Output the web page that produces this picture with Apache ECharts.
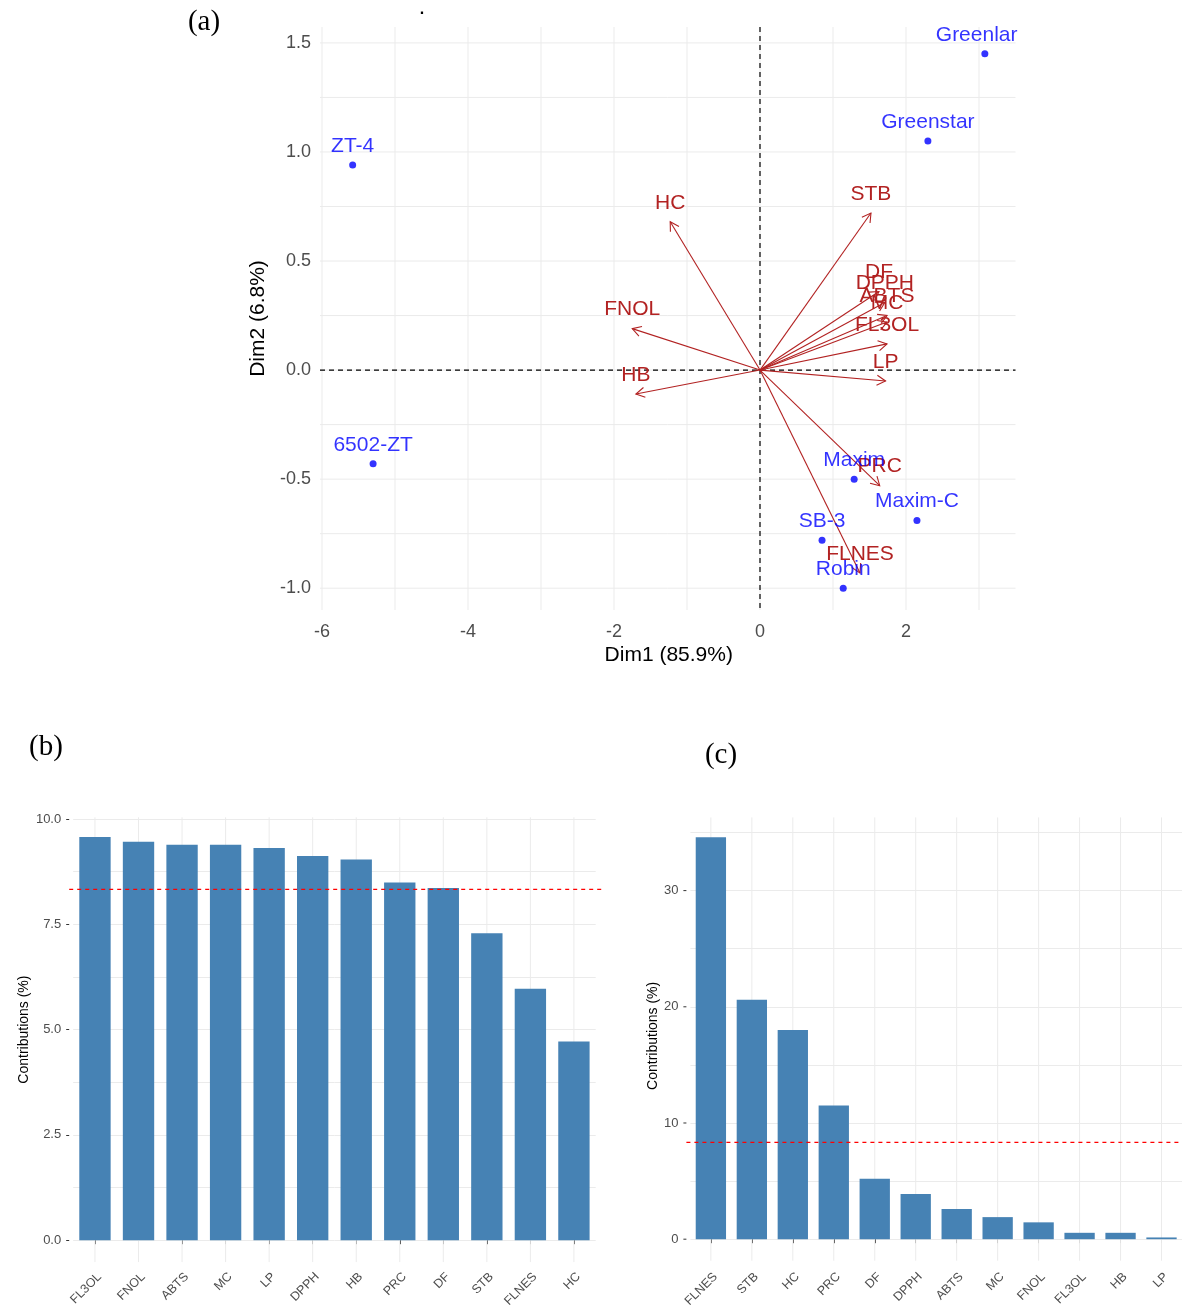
<!DOCTYPE html>
<html><head><meta charset="utf-8">
<script src="https://cdn.jsdelivr.net/npm/echarts@6/dist/echarts.min.js"></script>
<style>html,body{margin:0;padding:0;background:#fff}#c{width:1182px;height:1310px}</style>
</head><body><div id="c"></div>
<script>
// ---- (a) PCA biplot ----
const indNames = ['Greenlar','Greenstar','ZT-4','6502-ZT','Maxim','Maxim-C','SB-3','Robin'];
const indDim1 = [3.08, 2.30, -5.58, -5.30, 1.29, 2.15, 0.85, 1.14];
const indDim2 = [1.45, 1.05, 0.94, -0.43, -0.50, -0.69, -0.78, -1.00];
const varNames = ['FL3OL','FNOL','ABTS','MC','LP','DPPH','HB','PRC','DF','STB','FLNES','HC'];
const varDim1 = [1.74, -1.75, 1.74, 1.74, 1.72, 1.71, -1.70, 1.64, 1.63, 1.52, 1.37, -1.23];
const varDim2 = [0.12, 0.19, 0.25, 0.22, -0.05, 0.31, -0.11, -0.53, 0.36, 0.72, -0.93, 0.68];
const dim1Ticks = [-6, -4, -2, 0, 2];
const dim2Ticks = [-1.0, -0.5, 0.0, 0.5, 1.0, 1.5];
const dim1Grid = [-6, -5, -4, -3, -2, -1, 0, 1, 2, 3];
const dim2Grid = [-1, -0.75, -0.5, -0.25, 0, 0.25, 0.5, 0.75, 1, 1.25, 1.5];
// ---- (b) contributions to Dim1 ----
const contrib1Cats = ['FL3OL','FNOL','ABTS','MC','LP','DPPH','HB','PRC','DF','STB','FLNES','HC'];
const contrib1Vals = [9.57, 9.46, 9.39, 9.39, 9.31, 9.12, 9.04, 8.49, 8.36, 7.29, 5.97, 4.72];
const contrib1Ticks = [0, 2.5, 5, 7.5, 10];
// ---- (c) contributions to Dim2 ----
const contrib2Cats = ['FLNES','STB','HC','PRC','DF','DPPH','ABTS','MC','FNOL','FL3OL','HB','LP'];
const contrib2Vals = [34.6, 20.6, 18.0, 11.5, 5.2, 3.9, 2.6, 1.9, 1.45, 0.55, 0.55, 0.15];
const contrib2Ticks = [0, 10, 20, 30];
const expectedContrib = 8.33;

const FONT = '"Liberation Sans", Arial, sans-serif';
const VAR_COLOR = '#B22222';
const IND_COLOR = '#0000FF';
const GRID_COLOR = '#EBEBEB';
const AXIS_TXT = '#4D4D4D';
const BIPLOT = {left: 322, top: 27, width: 693.5, height: 583};

const chart = echarts.init(document.getElementById('c'), null, {renderer: 'canvas'});

function biplotGrid(params, api) {
  const cs = params.coordSys;
  const ch = [];
  dim1Grid.forEach(v => {
    const x = api.coord([v, 0])[0];
    ch.push({type: 'line', shape: {x1: x, y1: cs.y, x2: x, y2: cs.y + cs.height}, style: {stroke: GRID_COLOR, lineWidth: 1}});
  });
  dim2Grid.forEach(v => {
    const y = api.coord([0, v])[1];
    ch.push({type: 'line', shape: {x1: cs.x - 2, y1: y, x2: cs.x + cs.width, y2: y}, style: {stroke: GRID_COLOR, lineWidth: 1}});
  });
  const o = api.coord([0, 0]);
  ch.push({type: 'line', shape: {x1: o[0], y1: cs.y, x2: o[0], y2: cs.y + cs.height + 2}, style: {stroke: '#000', lineWidth: 1.2, lineDash: [5, 4]}});
  ch.push({type: 'line', shape: {x1: cs.x - 2, y1: o[1], x2: cs.x + cs.width, y2: o[1]}, style: {stroke: '#000', lineWidth: 1.2, lineDash: [5, 4]}});
  return {type: 'group', children: ch, silent: true};
}

function arrowItem(params, api) {
  const p0 = api.coord([0, 0]);
  const p1 = api.coord([api.value(0), api.value(1)]);
  const a = Math.atan2(p1[1] - p0[1], p1[0] - p0[0]);
  const L = 10, w = Math.PI / 6;
  const h1 = [p1[0] - L * Math.cos(a - w), p1[1] - L * Math.sin(a - w)];
  const h2 = [p1[0] - L * Math.cos(a + w), p1[1] - L * Math.sin(a + w)];
  return {type: 'group', children: [
    {type: 'line', shape: {x1: p0[0], y1: p0[1], x2: p1[0], y2: p1[1]}, style: {stroke: VAR_COLOR, lineWidth: 1.1}},
    {type: 'polyline', shape: {points: [h1, p1, h2]}, style: {stroke: VAR_COLOR, lineWidth: 1.1, fill: null}},
    {type: 'text', x: p1[0], y: p1[1] - 19, style: {text: varNames[params.dataIndex], fill: VAR_COLOR, font: '21px ' + FONT, textAlign: 'center', textVerticalAlign: 'middle'}}
  ]};
}

function catGrid(lo, hi) {
  return function (params, api) {
    const x = api.coord([api.value(0), 0])[0];
    const y1 = api.coord([0, hi])[1], y2 = api.coord([0, lo])[1];
    return {type: 'line', shape: {x1: x, y1: y1, x2: x, y2: y2}, style: {stroke: GRID_COLOR, lineWidth: 1}, silent: true};
  };
}

function yTicks(params, api) {
  const y = api.coord([0, api.value(1)])[1];
  const x = params.coordSys.x - 4;
  return {type: 'line', shape: {x1: x - 3, y1: y, x2: x, y2: y}, style: {stroke: '#333', lineWidth: 1}, silent: true};
}

function refLineItem(params, api) {
  const cs = params.coordSys;
  const y = api.coord([0, api.value(1)])[1];
  return {type: 'line', shape: {x1: cs.x - 4, y1: y, x2: cs.x + cs.width + 6, y2: y},
          style: {stroke: '#FF0000', lineWidth: 1.1, lineDash: [4, 4]}, silent: true};
}

const catLabel = () => ({rotate: 45, interval: 0, fontSize: 12.5, color: AXIS_TXT, margin: 10, verticalAlign: 'top'});

const option = {
  animation: false,
  backgroundColor: '#fff',
  textStyle: {fontFamily: FONT},
  grid: [
    BIPLOT,
    {left: 73.2, top: 819, width: 522.5, height: 424},
    {left: 690.4, top: 832.5, width: 495.3, height: 409.5}
  ],
  xAxis: [
    {type: 'value', gridIndex: 0, min: -6, max: 3.5, interval: 1,
     axisLine: {show: false}, axisTick: {show: false}, splitLine: {show: false},
     axisLabel: {formatter: v => dim1Ticks.includes(v) ? String(v) : '', fontSize: 18, color: AXIS_TXT, margin: 13},
     name: 'Dim1 (85.9%)', nameLocation: 'middle', nameGap: 35, nameTextStyle: {fontSize: 21, color: '#000'}},
    {type: 'category', gridIndex: 1, data: contrib1Cats, offset: 20,
     axisLine: {show: false}, axisTick: {show: true, alignWithLabel: true, length: 4, lineStyle: {color: '#333'}},
     axisLabel: catLabel(), splitLine: {show: false}},
    {type: 'category', gridIndex: 2, data: contrib2Cats, offset: 21,
     axisLine: {show: false}, axisTick: {show: true, alignWithLabel: true, length: 4, lineStyle: {color: '#333'}},
     axisLabel: catLabel(), splitLine: {show: false}}
  ],
  yAxis: [
    {type: 'value', gridIndex: 0, min: -1.1, max: 1.573, interval: 0.1,
     axisLine: {show: false}, axisTick: {show: false}, splitLine: {show: false},
     axisLabel: {formatter: v => { const t = dim2Ticks.find(t => Math.abs(t - v) < 1e-6); return t === undefined ? '' : t.toFixed(1); }, fontSize: 18, color: AXIS_TXT, margin: 11},
     name: 'Dim2 (6.8%)', nameLocation: 'middle', nameGap: 46, nameTextStyle: {fontSize: 21, color: '#000'}},
    {type: 'value', gridIndex: 1, min: 0, max: 10, interval: 2.5, offset: 4,
     axisLine: {show: false}, axisTick: {show: true, length: 3, lineStyle: {color: '#333'}},
     axisLabel: {formatter: v => contrib1Ticks.includes(v) ? v.toFixed(1) : '', fontSize: 13, color: AXIS_TXT, margin: 8},
     splitLine: {show: true, lineStyle: {color: GRID_COLOR, width: 1}},
     minorTick: {show: false, splitNumber: 2}, minorSplitLine: {show: true, lineStyle: {color: GRID_COLOR, width: 1}},
     name: 'Contributions (%)', nameLocation: 'middle', nameGap: 38, nameTextStyle: {fontSize: 14, color: '#000'}},
    {type: 'value', gridIndex: 2, min: 0, max: 35, interval: 5, offset: 4,
     axisLine: {show: false}, axisTick: {show: false},
     axisLabel: {formatter: v => contrib2Ticks.includes(v) ? String(v) : '', fontSize: 13, color: AXIS_TXT, margin: 8},
     splitLine: {show: true, lineStyle: {color: GRID_COLOR, width: 1}},
     name: 'Contributions (%)', nameLocation: 'middle', nameGap: 25, nameTextStyle: {fontSize: 14, color: '#000'}}
  ],
  graphic: [
    {type: 'text', x: 204, y: 22, style: {text: '(a)', font: '29px "Liberation Serif", serif', fill: '#000', textAlign: 'center', textVerticalAlign: 'middle'}},
    {type: 'text', x: 46, y: 747, style: {text: '(b)', font: '29px "Liberation Serif", serif', fill: '#000', textAlign: 'center', textVerticalAlign: 'middle'}},
    {type: 'text', x: 721, y: 755, style: {text: '(c)', font: '29px "Liberation Serif", serif', fill: '#000', textAlign: 'center', textVerticalAlign: 'middle'}},
    {type: 'text', x: 422, y: 10, style: {text: '.', font: 'bold 16px ' + FONT, fill: '#000', textAlign: 'center', textVerticalAlign: 'middle'}}
  ],
  series: [
    {type: 'custom', xAxisIndex: 0, yAxisIndex: 0, z: 1, data: [[0, 0]], renderItem: biplotGrid, silent: true},
    {type: 'custom', xAxisIndex: 0, yAxisIndex: 0, z: 3, data: varDim1.map((x, i) => [x, varDim2[i]]), renderItem: arrowItem, silent: true},
    {type: 'scatter', xAxisIndex: 0, yAxisIndex: 0, z: 4, symbolSize: 7, itemStyle: {color: IND_COLOR},
     data: indNames.map((n, i) => ({name: n, value: [indDim1[i], indDim2[i]]})),
     label: {show: true, formatter: '{b}', position: 'top', distance: 5, fontSize: 21, color: IND_COLOR},
     labelLayout: function (p) {
       const r = p.labelRect, lim = BIPLOT.left + BIPLOT.width + 2;
       return (r.x + r.width > lim) ? {dx: lim - (r.x + r.width)} : {};
     }},
    {type: 'custom', xAxisIndex: 1, yAxisIndex: 1, z: 1, data: contrib1Cats.map((c, i) => [i, 0]), renderItem: catGrid(-0.52, 10.04), silent: true},
    {type: 'bar', xAxisIndex: 1, yAxisIndex: 1, z: 2, data: contrib1Vals, barWidth: '72%', itemStyle: {color: '#4682B4'}},
    {type: 'custom', xAxisIndex: 1, yAxisIndex: 1, z: 5, data: [[0, expectedContrib]], renderItem: refLineItem, silent: true},
    {type: 'custom', xAxisIndex: 2, yAxisIndex: 2, z: 1, data: contrib2Cats.map((c, i) => [i, 0]), renderItem: catGrid(-1.85, 36.3), silent: true},
    {type: 'custom', xAxisIndex: 2, yAxisIndex: 2, z: 1, data: contrib2Ticks.map(v => [0, v]), renderItem: yTicks, silent: true},
    {type: 'bar', xAxisIndex: 2, yAxisIndex: 2, z: 2, data: contrib2Vals, barWidth: '74%', itemStyle: {color: '#4682B4'}},
    {type: 'custom', xAxisIndex: 2, yAxisIndex: 2, z: 5, data: [[0, expectedContrib]], renderItem: refLineItem, silent: true}
  ]
};
chart.setOption(option);
</script>
</body></html>
